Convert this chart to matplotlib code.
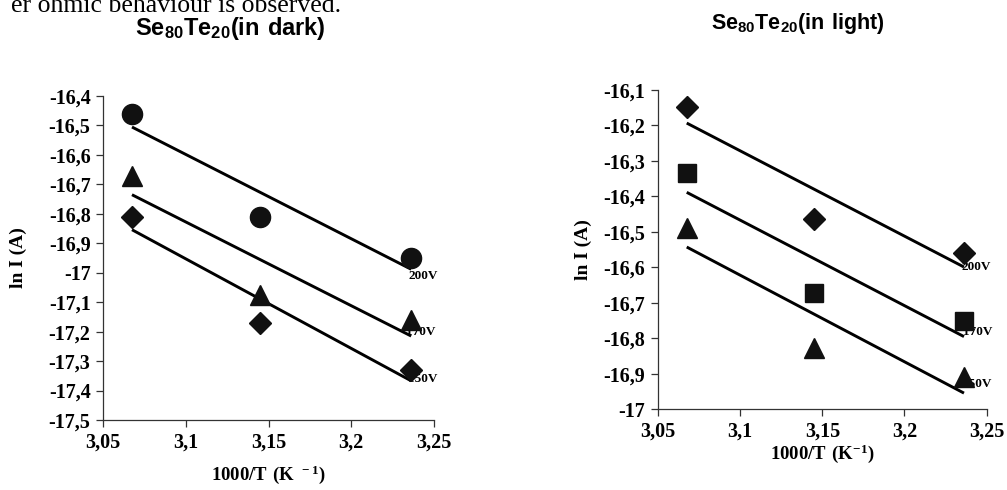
import numpy as np
import matplotlib
matplotlib.use("Agg")
from matplotlib import pyplot as plt

plt.rcParams['font.family'] = ['Liberation Serif', 'DejaVu Serif']
plt.rcParams['font.weight'] = 'bold'
plt.rcParams['mathtext.fontset'] = 'custom'
plt.rcParams['mathtext.sf'] = 'Liberation Sans:bold'
plt.rcParams['mathtext.bf'] = 'Liberation Serif:bold'
plt.rcParams['mathtext.rm'] = 'Liberation Serif:bold'

# 1000/T for T = 326, 318, 309 K
inv_t = [3.0675, 3.1447, 3.2362]

dark_200 = [-16.46, -16.81, -16.95]
dark_170 = [-16.67, -17.075, -17.16]
dark_150 = [-16.81, -17.17, -17.33]

light_200 = [-16.147, -16.464, -16.56]
light_170 = [-16.335, -16.673, -16.75]
light_150 = [-16.49, -16.828, -16.91]

voltages = ['200V', '170V', '150V']

x_ticks = [3.05, 3.1, 3.15, 3.2, 3.25]
dark_yticks = [-16.4, -16.5, -16.6, -16.7, -16.8, -16.9, -17.0, -17.1, -17.2, -17.3, -17.4, -17.5]
light_yticks = [-16.1, -16.2, -16.3, -16.4, -16.5, -16.6, -16.7, -16.8, -16.9, -17.0]


def comma(v):
    return ('%g' % v).replace('.', ',')


def draw(ax, series, markers, sizes, offsets, yticks, tick_size):
    for ys, m, ms, label, off in zip(series, markers, sizes, voltages, offsets):
        ax.plot(inv_t, ys, linestyle='none', marker=m, markersize=ms,
                color='#111111', zorder=4, clip_on=False)
        # linear trendline through the three points
        k, b = np.polyfit(inv_t, ys, 1)
        xs = np.array([inv_t[0], inv_t[-1]])
        ax.plot(xs, k * xs + b, color='black', lw=2.1, zorder=3,
                solid_capstyle='butt')
        ax.annotate(label, xy=(xs[-1], k * xs[-1] + b), xytext=off,
                    textcoords='offset points', ha='left', va='center',
                    fontsize=9.5, fontweight='bold', zorder=2)
    ax.set_xlim(3.05, 3.25)
    ax.set_ylim(min(yticks), max(yticks))
    ax.set_xticks(x_ticks)
    ax.set_xticklabels([comma(v) for v in x_ticks], fontsize=tick_size)
    ax.set_yticks(yticks)
    ax.set_yticklabels([comma(v) for v in yticks], fontsize=tick_size)
    for s in ['top', 'right']:
        ax.spines[s].set_visible(False)
    for s in ['left', 'bottom']:
        ax.spines[s].set_linewidth(0.9)
        ax.spines[s].set_color('#333333')
    ax.tick_params(direction='out', length=5, width=0.9, color='#333333', pad=4)
    ax.set_ylabel('ln I (A)', fontsize=14, fontweight='bold')


fig = plt.figure(figsize=(10.07, 4.9), dpi=100)

ax1 = fig.add_axes([0.1023, 0.1429, 0.3287, 0.6612])
draw(ax1, [dark_200, dark_170, dark_150], ['o', '^', 'D'], [14.5, 15, 11],
     [(-2, -5), (-3.5, 3), (-2, 1.5)], dark_yticks, 14.5)
ax1.set_xlabel(r'$\mathbf{1000/T\ (K^{\ -1})}$', fontsize=13.5, labelpad=8)
ax1.yaxis.set_label_coords(-0.23, 0.5)

ax2 = fig.add_axes([0.6534, 0.1647, 0.3264, 0.6516])
draw(ax2, [light_200, light_170, light_150], ['D', 's', '^'], [11, 13.5, 15],
     [(-1.5, 0), (-1, 3.5), (-1.5, 6.5)], light_yticks, 14.5)
ax2.set_xlabel(r'$\mathbf{1000/T\ (K^{-1})}$', fontsize=13.5, labelpad=0.5)
ax2.yaxis.set_label_coords(-0.20, 0.5)

fig.text(0.229, 1 - 28 / 490, r'$\mathsf{Se_{80}Te_{20}(in\ dark)}$',
         ha='center', va='center', fontsize=17)
fig.text(0.792, 1 - 23 / 490, r'$\mathsf{Se_{80}Te_{20}(in\ light)}$',
         ha='center', va='center', fontsize=15.5)
fig.text(0.339, 1 - 12 / 490, 'er ohmic behaviour is observed.', ha='right',
         va='baseline', fontsize=18.5, fontweight='normal')

fig.savefig('out.png', dpi=100)
